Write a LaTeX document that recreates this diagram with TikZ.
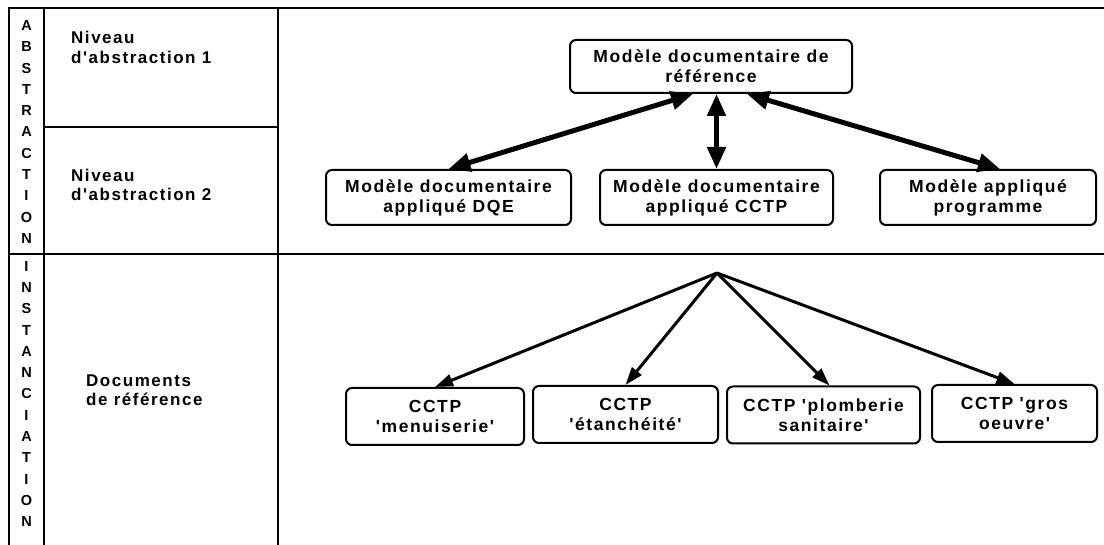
\documentclass[tikz,border=0pt]{standalone}
\usepackage{fontspec}
\setmainfont{Liberation Sans}
\newfontfamily\diagfont{Liberation Sans}[LetterSpace=9]
\usetikzlibrary{arrows.meta, calc}
\tikzset{
  gridline/.style={line width=2pt},
  modelbox/.style={draw, line width=2pt, rounded corners=6pt, align=center,
    inner sep=2pt, minimum height=55pt, font=\diagfont\bfseries\fontsize{17.5}{20}\selectfont},
  levellabel/.style={anchor=west, align=left, inner sep=0pt,
    font=\diagfont\bfseries\fontsize{17}{19.5}\selectfont},
  stackletters/.style={align=center, inner sep=0pt,
    font=\diagfont\bfseries\fontsize{14.5}{21.3}\selectfont},
  linkarrow/.style={line width=5pt,
    {Triangle[length=22pt,width=18pt]}-{Triangle[length=22pt,width=18pt]}},
  fanarrow/.style={line width=3pt, -{Triangle[length=18pt,width=12pt]}},
}

\begin{document}
\begin{tikzpicture}[x=1pt, y=-1pt]
      \useasboundingbox (0,0) rectangle (1104,545);
      % table frame
      \draw[gridline] (9,545) -- (9,8) -- (1104,8);
      \draw[gridline] (44,8) -- (44,545);
      \draw[gridline] (278,8) -- (278,545);
      \draw[gridline] (44,127) -- (278,127);
      \draw[gridline] (9,254) -- (1104,254);
      % vertical titles
      \node[stackletters] (abstr) at (26.5,132)
        {A\\B\\S\\T\\R\\A\\C\\T\\I\\O\\N};
      \node[stackletters] (instanc) at (26.5,394)
        {I\\N\\S\\T\\A\\N\\C\\I\\A\\T\\I\\O\\N};
      % level labels
      \node[levellabel] (level1) at (71,47.5) {Niveau\\d'abstraction 1};
      \node[levellabel] (level2) at (71,185) {Niveau\\d'abstraction 2};
      \node[levellabel] (docref) at (86,390) {Documents\\de référence};
      % abstraction models
      \node[modelbox, minimum width=282pt, minimum height=53pt] (refmodel) at (711,66.5)
        {Modèle documentaire de\\référence};
      \node[modelbox, minimum width=245pt] (dqemodel) at (448.5,197.5)
        {Modèle documentaire\\appliqué DQE};
      \node[modelbox, minimum width=233pt] (cctpmodel) at (716.5,197.5)
        {Modèle documentaire\\appliqué CCTP};
      \node[modelbox, minimum width=216pt] (progmodel) at (988,197.5)
        {Modèle appliqué\\programme};
      \draw[linkarrow] ($(refmodel.south)+(-18,0)$) -- (dqemodel.north);
      \draw[linkarrow] (cctpmodel.north |- refmodel.south) -- (cctpmodel.north);
      \draw[linkarrow] ($(refmodel.south)+(36,0)$) -- ($(progmodel.north)+(12,0)$);
      % reference documents
      \coordinate (fanroot) at (717,273);
      \node[modelbox, minimum width=178pt, minimum height=57pt] (menuis) at (435,416.5)
        {CCTP\\'menuiserie'};
      \node[modelbox, minimum width=185pt, minimum height=57pt] (etanch) at (625.5,414.5)
        {CCTP\\'étanchéité'};
      \node[modelbox, minimum width=193pt, minimum height=57pt] (plomb) at (823.5,415)
        {CCTP 'plomberie\\sanitaire'};
      \node[modelbox, minimum width=165pt, minimum height=57pt] (grosoeuvre) at (1014.5,413.5)
        {CCTP 'gros\\oeuvre'};
      \draw[fanarrow] (fanroot) -- (menuis.north);
      \draw[fanarrow] (fanroot) -- (etanch.north);
      \draw[fanarrow] (fanroot) -- ($(plomb.north)+(6,0)$);
      \draw[fanarrow] (fanroot) -- (grosoeuvre.north);
    \end{tikzpicture}
\end{document}
